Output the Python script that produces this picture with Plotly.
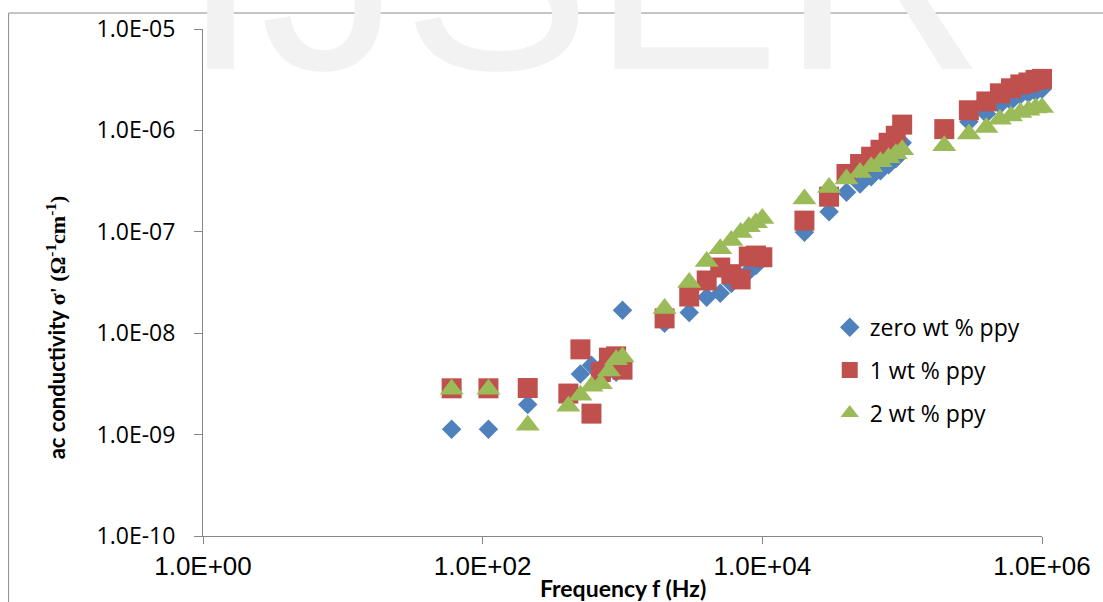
import plotly.graph_objects as go

# Measurement frequencies (Hz)
freq = [60, 110, 210, 410, 500, 600, 700, 800, 900, 1000,
        2000, 3000, 4000, 5000, 6000, 7000, 8000, 9000, 10000,
        20000, 30000, 40000, 50000, 60000, 70000, 80000, 90000, 100000,
        200000, 300000, 400000, 500000, 600000, 700000, 800000, 900000, 1000000]

# ac conductivity (ohm^-1 cm^-1) for each composition
sigma_zero = [1.13e-9, 1.13e-9, 1.98e-9, 2.44e-9, 3.96e-9, 4.82e-9, 4.51e-9, 4.30e-9, 4.11e-9, 1.68e-8,
              1.25e-8, 1.60e-8, 2.26e-8, 2.48e-8, 3.09e-8, 3.54e-8, 4.06e-8, 4.65e-8, 5.45e-8,
              9.89e-8, 1.58e-7, 2.45e-7, 2.96e-7, 3.49e-7, 4.00e-7, 4.58e-7, 5.25e-7, 7.55e-7,
              9.91e-7, 1.22e-6, 1.46e-6, 1.79e-6, 1.95e-6, 2.24e-6, 2.32e-6, 2.40e-6, 2.54e-6]
sigma_one = [2.86e-9, 2.86e-9, 2.88e-9, 2.54e-9, 6.93e-9, 1.61e-9, 4.14e-9, 5.74e-9, 5.91e-9, 4.37e-9,
             1.40e-8, 2.30e-8, 3.31e-8, 4.44e-8, 3.82e-8, 3.39e-8, 5.70e-8, 5.83e-8, 5.61e-8,
             1.29e-7, 2.22e-7, 3.72e-7, 4.66e-7, 5.50e-7, 6.44e-7, 7.55e-7, 8.85e-7, 1.14e-6,
             1.03e-6, 1.58e-6, 1.93e-6, 2.32e-6, 2.60e-6, 2.84e-6, 2.97e-6, 3.15e-6, 3.22e-6]
sigma_two = [2.80e-9, 2.80e-9, 1.24e-9, 1.90e-9, 2.44e-9, 2.99e-9, 3.18e-9, 4.23e-9, 5.48e-9, 5.82e-9,
             1.75e-8, 3.16e-8, 5.09e-8, 6.79e-8, 8.19e-8, 9.82e-8, 1.12e-7, 1.23e-7, 1.35e-7,
             2.11e-7, 2.74e-7, 3.32e-7, 3.85e-7, 4.38e-7, 4.91e-7, 5.37e-7, 5.89e-7, 6.44e-7,
             7.05e-7, 9.20e-7, 1.07e-6, 1.29e-6, 1.39e-6, 1.50e-6, 1.58e-6, 1.66e-6, 1.68e-6]

series_names = ["zero wt % ppy", "1 wt % ppy", "2 wt % ppy"]

x_tickvals = [1, 1e2, 1e4, 1e6]
x_ticktext = ["1.0E+00", "1.0E+02", "1.0E+04", "1.0E+06"]
y_tickvals = [1e-10, 1e-9, 1e-8, 1e-7, 1e-6, 1e-5]
y_ticktext = ["1.0E-10", "1.0E-09", "1.0E-08", "1.0E-07", "1.0E-06", "1.0E-05"]

AXIS_GREY = "#868686"

fig = go.Figure()

# Faint journal watermark across the top, kept behind everything else
fig.add_annotation(
    text="IJSER", xref="paper", yref="paper", x=0.453, y=0.799,
    xanchor="center", yanchor="bottom", showarrow=False,
    font=dict(family="Liberation Sans", size=284, color="#f2f2f2"),
)

styles = [
    dict(symbol="diamond", size=15, color="#4F81BD"),
    dict(symbol="square", size=20, color="#C0504D"),
    dict(symbol="triangle-up", size=21, color="#9BBB59"),
]

for name, ys, st in zip(series_names, [sigma_zero, sigma_one, sigma_two], styles):
    fig.add_trace(go.Scatter(
        x=freq, y=ys, mode="markers", name=name, legendgroup=name,
        marker=dict(symbol=st["symbol"], size=st["size"], color=st["color"],
                    line=dict(width=0)),
        cliponaxis=False,
    ))

fig.update_xaxes(
    type="log", range=[0, 6],
    showline=True, linecolor=AXIS_GREY, linewidth=1,
    ticks="outside", ticklen=7, tickcolor=AXIS_GREY, tickwidth=1,
    tickvals=x_tickvals, ticktext=x_ticktext,
    tickfont=dict(family="Liberation Sans", size=26, color="black"),
    showgrid=False, zeroline=False,
)
fig.update_yaxes(
    type="log", range=[-10, -5],
    showline=True, linecolor=AXIS_GREY, linewidth=1,
    ticks="outside", ticklen=8, tickcolor=AXIS_GREY, tickwidth=1,
    tickvals=y_tickvals, ticktext=y_ticktext,
    tickfont=dict(family="Open Sans", size=23, color="black"),
    ticklabelstandoff=14,
    showgrid=False, zeroline=False,
)

# Axis titles
fig.add_annotation(
    text="Frequency f (Hz)", xref="paper", yref="paper", x=0.5, y=-0.102,
    xanchor="center", yanchor="middle", showarrow=False,
    font=dict(family="Lato", size=23, color="black", weight="bold"),
)
fig.add_annotation(
    text="ac conductivity <span style=\"font-family:Liberation Serif\">σ' (Ω<sup>-1</sup>cm<sup>-1</sup>)</span>",
    xref="paper", yref="paper", x=-0.175, y=0.412, textangle=-90,
    xanchor="center", yanchor="middle", showarrow=False,
    font=dict(family="Lato", size=22, color="black", weight="bold"),
)

# Outer chart frame
fig.add_shape(type="line", xref="paper", yref="paper", x0=-0.2317, x1=-0.2317, y0=-0.3, y1=1.0315,
              line=dict(color="#8c8c8c", width=1))
fig.add_shape(type="line", xref="paper", yref="paper", x0=-0.2317, x1=1.2, y0=1.0315, y1=1.0315,
              line=dict(color="#8c8c8c", width=1))

fig.update_layout(
    width=1103, height=602,
    margin=dict(l=203, r=54, t=28, b=66),
    paper_bgcolor="white", plot_bgcolor="white",
    showlegend=True,
    legend=dict(
        x=0.747, y=0.327, xanchor="left", yanchor="middle",
        font=dict(family="Open Sans", size=23, color="black"),
        tracegroupgap=10, bgcolor="rgba(0,0,0,0)",
    ),
)

fig.write_html("out.html")
